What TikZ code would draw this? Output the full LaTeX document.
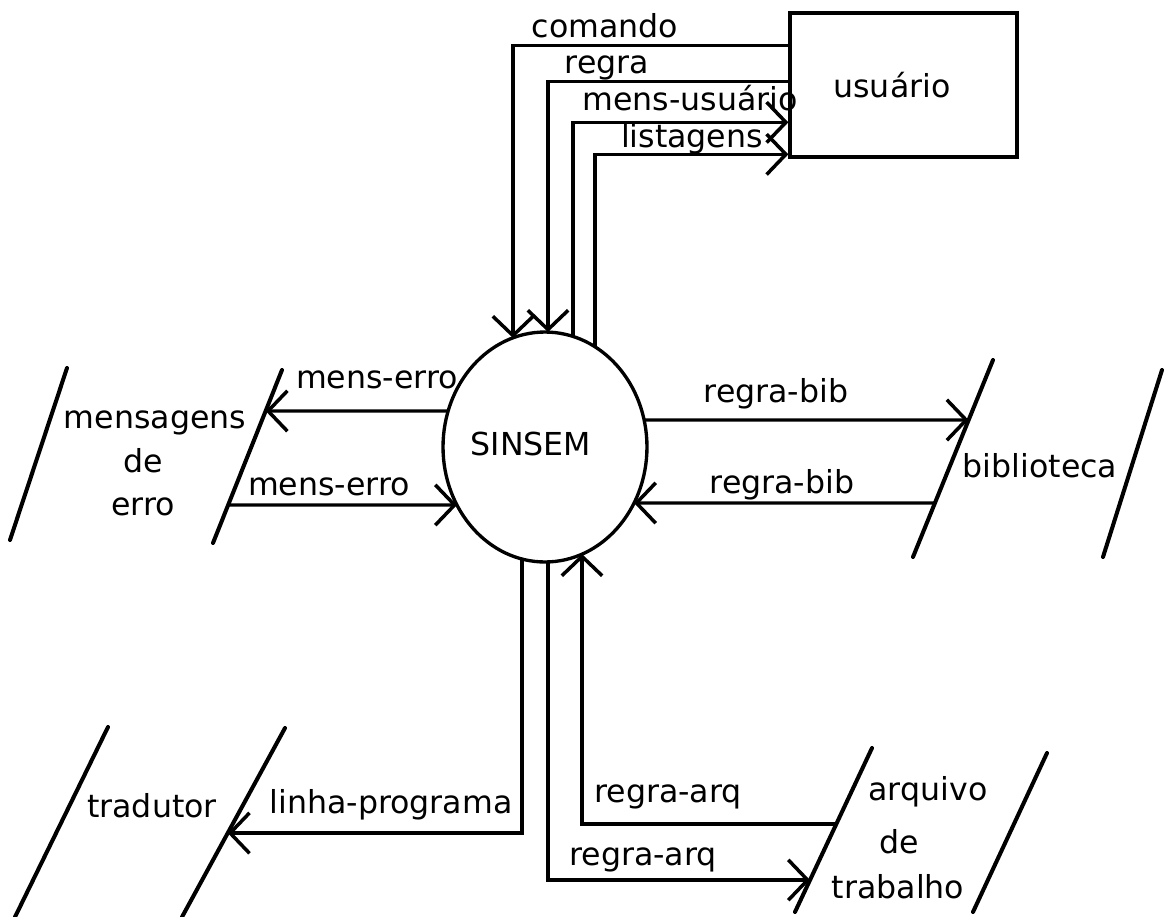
\documentclass[tikz,border=0pt]{standalone}
\usepackage{fontspec}
\setmainfont{DejaVu Sans}
\usetikzlibrary{arrows.meta,shapes.geometric,calc}
\begin{document}
\begin{tikzpicture}[x=0.02cm,y=-0.02cm,
  every node/.style={font=\fontsize{18}{20}\selectfont, inner sep=0pt},
  flow/.style={line width=1.9pt, -{Straight Barb[length=11pt,width=23pt,line width=2pt]}},
  store/.style={line width=2.3pt, line cap=round},
  lbl/.style={anchor=base}]
\useasboundingbox (0,0) rectangle (1171,917);

% processes / terminators
\node[draw, line width=1.9pt, minimum width=4.54cm, minimum height=2.88cm] (usuario) at (903.5,85) {};
\node[lbl] (usuariotxt) at (892,97) {usuário};
\node[draw, ellipse, line width=1.9pt, minimum width=4.08cm, minimum height=4.6cm] (sinsem) at (545,447) {};
\node[lbl] (sinsemtxt) at (531,455) {SINSEM};

% data stores
\coordinate (meL1) at (67,368);  \coordinate (meL2) at (10,540);
\coordinate (meR1) at (282,370); \coordinate (meR2) at (213,543);
\coordinate (biL1) at (993,360); \coordinate (biL2) at (913,557);
\coordinate (biR1) at (1162,370);\coordinate (biR2) at (1103,557);
\coordinate (trL1) at (108,727); \coordinate (trL2) at (15,917);
\coordinate (trR1) at (285,728); \coordinate (trR2) at (182,917);
\coordinate (arL1) at (872,748); \coordinate (arL2) at (795,912);
\coordinate (arR1) at (1047,753);\coordinate (arR2) at (973,912);
\foreach \s in {me,bi,tr,ar}{
  \draw[store] (\s L1) -- (\s L2);
  \draw[store] (\s R1) -- (\s R2);
}
\node[lbl] (mens1) at (155,428) {mensagens};
\node[lbl] (mens2) at (143,472) {de};
\node[lbl] (mens3) at (143,515) {erro};
\node[lbl] (bib) at (1040,477) {biblioteca};
\node[lbl] (trad) at (152,817) {tradutor};
\node[lbl] (arq1) at (928,800) {arquivo};
\node[lbl] (arq2) at (899,853) {de};
\node[lbl] (arq3) at (898,898) {trabalho};

% flows with usuario
\draw[flow] ($(usuario.north west)+(0,34)$) -| ($(sinsem.center)+(-32,-109)$);
\draw[flow] ($(usuario.north west)+(0,70)$) -| ($(sinsem.center)+(3,-115)$);
\draw[flow] ($(sinsem.center)+(28,-111)$) |- ($(usuario.north west)+(0,111)$);
\draw[flow] ($(sinsem.center)+(50,-100)$) |- ($(usuario.north west)+(0,143)$);
\node[lbl] at (605,37) {comando};
\node[lbl] at (607,73) {regra};
\node[lbl] at (690,110) {mens-usuário};
\node[lbl] at (692,147) {listagens};

% mensagens de erro
\draw[flow] ($(sinsem.center)+(-97,-36)$) -- ($(meR1)!0.237!(meR2)$);
\draw[flow] ($(meR1)!0.78!(meR2)$) -- ($(sinsem.center)+(-88,58)$);
\node[lbl] at (377,388) {mens-erro};
\node[lbl] at (329,495) {mens-erro};

% biblioteca
\draw[flow] ($(sinsem.center)+(99,-27)$) -- ($(biL1)!0.3046!(biL2)$);
\draw[flow] ($(biL1)!0.726!(biL2)$) -- ($(sinsem.center)+(89,56)$);
\node[lbl] at (776,402) {regra-bib};
\node[lbl] at (782,493) {regra-bib};

% tradutor
\draw[flow] ($(sinsem.center)+(-23,112)$) |- ($(trR1)!0.556!(trR2)$);
\node[lbl] at (391,813) {linha-programa};

% arquivo de trabalho
\draw[flow] ($(sinsem.center)+(3,115)$) |- ($(arL1)!0.805!(arL2)$);
\draw[flow] ($(arL1)!0.463!(arL2)$) -| ($(sinsem.center)+(37,107)$);
\node[lbl] at (668,802) {regra-arq};
\node[lbl] at (643,865) {regra-arq};
\end{tikzpicture}
\end{document}
